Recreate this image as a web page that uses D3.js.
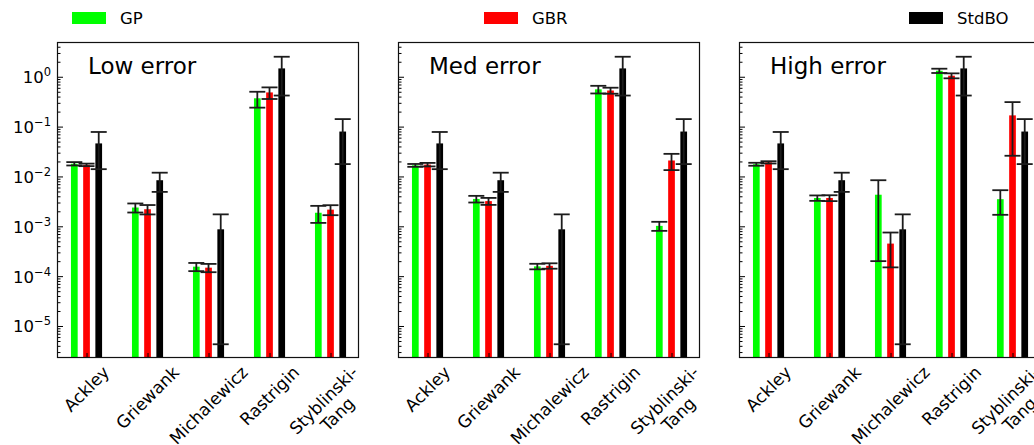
<!DOCTYPE html>
<html>
<head>
<meta charset="utf-8">
<script src="https://cdn.jsdelivr.net/npm/d3@7"></script>
<style>
  html, body { margin: 0; padding: 0; background: #fff; }
  svg { display: block; }
  text { font-family: "DejaVu Sans", sans-serif; fill: #000; }
</style>
</head>
<body>
<svg id="chart" width="1034" height="445"></svg>
<script>
// Benchmark functions (x categories)
const categories = ["Ackley", "Griewank", "Michalewicz", "Rastrigin", "Styblinski-\nTang"];
// Methods and their bar colours
const seriesNames = ["GP", "GBR", "StdBO"];
const seriesColors = ["#00ff00", "#ff0000", "#000000"];
// Noise levels, one panel each
const panelTitles = ["Low error", "Med error", "High error"];

// Mean regret and standard deviation per function
const gpLow       = [0.0180, 0.00238, 0.000155, 0.37, 0.00187];
const gpLowErr    = [0.0014, 0.00049, 0.000029, 0.13, 0.00070];
const gbrLow      = [0.0171, 0.00220, 0.000148, 0.485, 0.00216];
const gbrLowErr   = [0.0010, 0.00047, 0.000028, 0.127, 0.00049];

const gpMed       = [0.0167, 0.00354, 0.000157, 0.56, 0.00102];
const gpMedErr    = [0.0011, 0.00054, 0.000020, 0.098, 0.00021];
const gbrMed      = [0.0173, 0.00320, 0.000161, 0.53, 0.0209];
const gbrMedErr   = [0.0014, 0.00051, 0.000020, 0.073, 0.0075];

const gpHigh      = [0.0176, 0.00370, 0.0043, 1.32, 0.0035];
const gpHighErr   = [0.0012, 0.00046, 0.0041, 0.13, 0.0018];
const gbrHigh     = [0.0192, 0.00370, 0.00045, 1.05, 0.168];
const gbrHighErr  = [0.0010, 0.00050, 0.00030, 0.12, 0.142];

// Standard BO baseline (same in every panel)
const stdbo       = [0.046, 0.0084, 0.00087, 1.47, 0.0796];
const stdboErr    = [0.032, 0.0035, 0.0008657, 1.05, 0.0619];

// y-axis decades that carry labels
const yMajorExponents = [0, -1, -2, -3, -4, -5];

const panelValues = [
  [[gpLow, gpLowErr], [gbrLow, gbrLowErr], [stdbo, stdboErr]],
  [[gpMed, gpMedErr], [gbrMed, gbrMedErr], [stdbo, stdboErr]],
  [[gpHigh, gpHighErr], [gbrHigh, gbrHighErr], [stdbo, stdboErr]]
];

// ---- layout ----
const svg = d3.select("#chart");
const panelLefts = [57, 398, 739];
const panelW = 302;
const plotTop = 42, plotBottom = 358;
const barOffsets = [-0.2, 0, 0.2];
const barWidthUnits = 0.11;
const capHalf = 8;

const y = d3.scaleLog().domain([2.28e-6, 4.98]).range([plotBottom, plotTop]);
const x = d3.scaleLinear().domain([-0.484, 4.467]).range([0, panelW]);

const majorTicks = yMajorExponents.map(e => Math.pow(10, e));
const minorTicks = [];
for (let e = -6; e <= 0; e++) {
  for (let m = 2; m <= 9; m++) {
    const v = m * Math.pow(10, e);
    if (v >= y.domain()[0] && v <= y.domain()[1]) minorTicks.push(v);
  }
}

const supers = {"0": "0", "-1": "\u22121", "-2": "\u22122", "-3": "\u22123", "-4": "\u22124", "-5": "\u22125"};

panelTitles.forEach((title, p) => {
  const g = svg.append("g").attr("transform", `translate(${panelLefts[p]},0)`);
  const bw = x(barWidthUnits) - x(0);

  // bars
  panelValues[p].forEach(([vals], s) => {
    g.selectAll(null)
      .data(vals)
      .enter().append("rect")
      .attr("x", (d, i) => x(i + barOffsets[s]) - bw / 2)
      .attr("width", bw)
      .attr("y", d => y(d))
      .attr("height", d => plotBottom - y(d))
      .attr("fill", seriesColors[s]);
  });

  // error bars (drawn above all bars)
  panelValues[p].forEach(([vals, errs], s) => {
    const eg = g.append("g").attr("stroke", "#1c1c1c").attr("stroke-width", 1.8).attr("fill", "none");
    vals.forEach((v, i) => {
      const cx = x(i + barOffsets[s]);
      const hi = y(v + errs[i]);
      const lo = y(Math.max(v - errs[i], y.domain()[0]));
      eg.append("line").attr("x1", cx).attr("x2", cx).attr("y1", hi).attr("y2", lo);
      eg.append("line").attr("x1", cx - capHalf).attr("x2", cx + capHalf).attr("y1", hi).attr("y2", hi);
      eg.append("line").attr("x1", cx - capHalf).attr("x2", cx + capHalf).attr("y1", lo).attr("y2", lo);
    });
  });

  // y ticks (inward), major and minor
  const yMajor = g.append("g").call(d3.axisLeft(y).tickValues(majorTicks).tickSize(-6).tickFormat(""));
  const yMinor = g.append("g").call(d3.axisLeft(y).tickValues(minorTicks).tickSize(-3.5).tickFormat(""));
  [yMajor, yMinor].forEach(a => {
    a.select(".domain").remove();
    a.selectAll("line").attr("stroke", "#000").attr("stroke-width", 1);
  });

  // x ticks (inward) at the middle bar of each group
  const xAx = g.append("g").attr("transform", `translate(0,${plotBottom})`)
    .call(d3.axisBottom(x).tickValues(d3.range(categories.length)).tickSize(-5).tickFormat(""));
  xAx.select(".domain").remove();
  xAx.selectAll("line").attr("stroke", "#000").attr("stroke-width", 1);

  // frame
  g.append("rect")
    .attr("x", 0.5).attr("y", plotTop + 0.5)
    .attr("width", panelW - 1).attr("height", plotBottom - plotTop - 1)
    .attr("fill", "none").attr("stroke", "#111").attr("stroke-width", 1.2);

  // y tick labels on the first panel
  if (p === 0) {
    yMajorExponents.forEach(e => {
      const t = g.append("text")
        .attr("text-anchor", "end")
        .attr("x", -6)
        .attr("y", y(Math.pow(10, e)) + 6.5)
        .style("font-size", "16.5px");
      t.append("tspan").text("10");
      t.append("tspan").attr("dy", -7).style("font-size", "11.5px").text(supers[String(e)]);
    });
  }

  // panel title
  g.append("text")
    .attr("x", 31).attr("y", 74)
    .style("font-size", "23px")
    .text(title);

  // rotated category labels
  categories.forEach((c, i) => {
    const lg = svg.append("g");
    const t = lg.append("text")
      .attr("text-anchor", "middle")
      .attr("transform", "rotate(-45)")
      .style("font-size", "17px");
    c.split("\n").forEach((line, k) => {
      t.append("tspan").attr("x", 0).attr("dy", k === 0 ? 0 : "1.15em").text(line);
    });
    const bb = t.node().getBoundingClientRect();
    const tx = panelLefts[p] + x(i);
    lg.attr("transform", `translate(${tx - (bb.left + bb.right) / 2},${362 - bb.top})`);
  });
});

// legend across the top
const legendX = [72, 484, 909];
seriesNames.forEach((name, s) => {
  svg.append("rect")
    .attr("x", legendX[s]).attr("y", 12)
    .attr("width", 34).attr("height", 12)
    .attr("fill", seriesColors[s]);
  svg.append("text")
    .attr("x", legendX[s] + 48).attr("y", 24.3)
    .style("font-size", "16.5px")
    .text(name);
});
</script>
</body>
</html>
